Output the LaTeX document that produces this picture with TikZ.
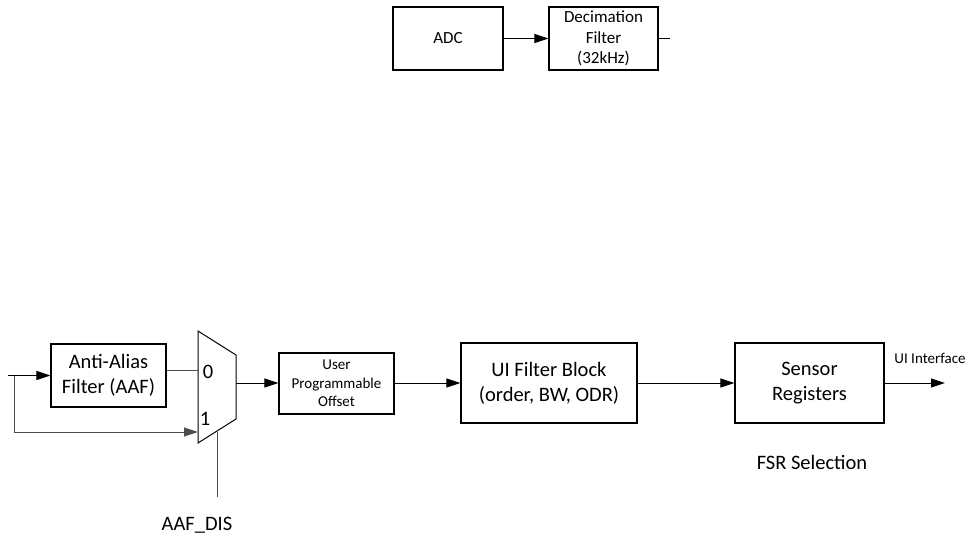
\documentclass[tikz,border=0pt]{standalone}
\usepackage{fontspec}
\setmainfont{Carlito}
\usetikzlibrary{arrows.meta}
\tikzset{
  blk/.style={draw=black, line width=1.2pt, fill=white, align=center, inner sep=0pt},
  bigtxt/.style={font=\fontsize{20.5}{25}\selectfont},
  midtxt/.style={font=\fontsize{17}{20.5}\selectfont},
  smtxt/.style={font=\fontsize{15}{18.5}\selectfont},
  wire/.style={line width=1pt, draw=black},
  graywire/.style={line width=1pt, draw=black!70},
  arr/.style={-{Triangle[length=14pt,width=9pt]}},
}
\begin{document}
\begin{tikzpicture}[x=1pt,y=-1pt]
\useasboundingbox (0,0) rectangle (972,536);
% top row
\node[blk, midtxt, minimum width=110pt, minimum height=63pt] (adc) at (448,38.5) {ADC};
\node[blk, midtxt, minimum width=109pt, minimum height=63pt] (dec) at (603.5,38.5) {Decimation\\Filter\\(32kHz)};
\coordinate (decout) at (670,38.5);
\draw[wire, arr] (adc.east) -- (dec.west);
\draw[wire] (dec.east) -- (decout);
% bottom row
\coordinate (in) at (8,375.5);
\coordinate (br) at (14,375.5);
\node[blk, bigtxt, minimum width=115pt, minimum height=63pt] (aaf) at (108.5,375.5) {Anti-Alias\\Filter (AAF)};
% mux
\coordinate (mtl) at (198,331);
\coordinate (mtr) at (236,355);
\coordinate (mbr) at (236,419);
\coordinate (mbl) at (198,443);
\draw[line width=1pt] (mtl) -- (mtr) -- (mbr) -- (mbl) -- cycle;
\coordinate (muxin0) at (198,370);
\coordinate (muxin1) at (198,432);
\coordinate (muxout) at (236,383);
\coordinate (muxsel) at (217,431.5);
\coordinate (selend) at (217,497);
\node[bigtxt, anchor=center] (zero) at (208,372) {0};
\node[bigtxt, anchor=center] (one) at (205,419) {1};
\draw[wire, arr] (in) -- (aaf.west);
\draw[graywire] (aaf.east |- muxin0) -- (muxin0);
\draw[graywire, arr] (br) |- (muxin1);
\draw[graywire] (muxsel) -- (selend);
\node[bigtxt] (aafdis) at (197,525) {AAF\_DIS};
\node[blk, smtxt, minimum width=115pt, minimum height=61pt] (off) at (336.5,383.5) {User\\Programmable\\Offset};
\node[blk, bigtxt, minimum width=176pt, minimum height=80pt] (uif) at (549,383) {UI Filter Block\\(order, BW, ODR)};
\node[blk, bigtxt, minimum width=149pt, minimum height=80pt] (sr) at (809.5,383) {Sensor\\Registers};
\coordinate (out) at (945,383);
\draw[wire, arr] (muxout) -- (off.west |- muxout);
\draw[wire, arr] (off.east |- uif.west) -- (uif.west);
\draw[wire, arr] (uif.east) -- (sr.west);
\draw[wire, arr] (sr.east) -- (out);
\node[smtxt] (uiint) at (930,358) {UI Interface};
\node[bigtxt] (fsr) at (812,462) {FSR Selection};
\end{tikzpicture}
\end{document}
